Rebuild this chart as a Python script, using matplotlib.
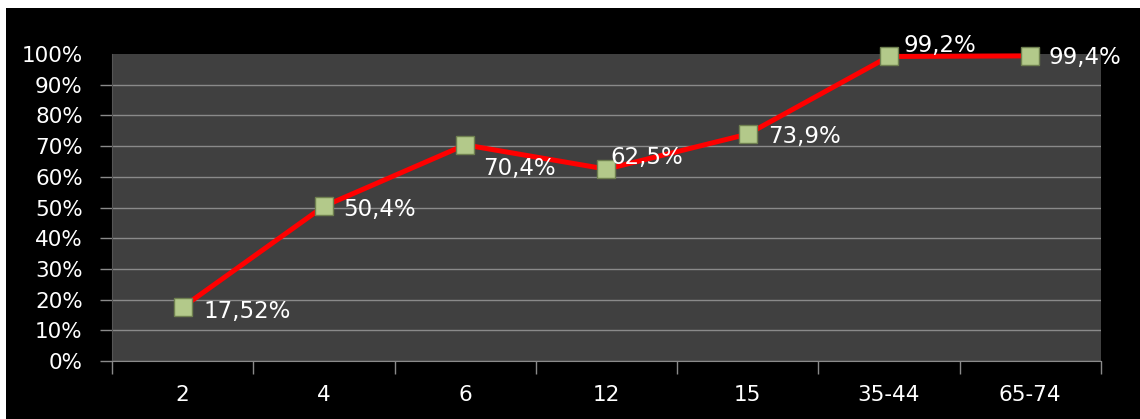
import matplotlib
matplotlib.use("Agg")
import matplotlib.pyplot as plt
from matplotlib.patches import Rectangle
import numpy as np

categories = ["2", "4", "6", "12", "15", "35-44", "65-74"]
values = [17.52, 50.4, 70.4, 62.5, 73.9, 99.2, 99.4]
labels = ["17,52%", "50,4%", "70,4%", "62,5%", "73,9%", "99,2%", "99,4%"]
yticks = list(range(0, 101, 10))
ytick_labels = [f"{v}%" for v in yticks]

# label offsets in pixels (dx, dy) from marker centre, text left-aligned
offsets = [(21, -4), (19, -3), (18, -24), (4, 12), (20, -2), (15, 11), (18, -2)]

fig = plt.figure(figsize=(11.4, 4.19), dpi=100, facecolor="black")
fig.patches.append(Rectangle((0, 0.981), 1, 0.019, transform=fig.transFigure,
                             facecolor="white", edgecolor="none", zorder=0))
fig.patches.append(Rectangle((0, 0), 0.0055, 1, transform=fig.transFigure,
                             facecolor="white", edgecolor="none", zorder=0))

ax = fig.add_axes([0.0982, 0.1384, 0.8675, 0.7327])
ax.set_facecolor("#404040")
x = np.arange(len(categories))
ax.set_xlim(-0.5, len(categories) - 0.5)
ax.set_ylim(0, 100)

ax.set_yticks(yticks)
ax.set_yticklabels(ytick_labels)
ax.yaxis.grid(True, color="#8a8a8a", linewidth=1)
ax.set_axisbelow(True)

ax.set_xticks(x)
ax.set_xticklabels(categories)
ax.set_xticks(np.arange(-0.5, len(categories)), minor=True)
ax.tick_params(axis="x", which="major", length=0, pad=17, colors="white", labelsize=15.5)
ax.tick_params(axis="x", which="minor", length=9, color="#8a8a8a", width=1)
ax.tick_params(axis="y", length=9, color="#8a8a8a", width=1, colors="white",
               labelsize=15.5, pad=12)
ax.tick_params(axis="y", color="#8a8a8a")

# no gridline / tick at the top edge (100%)
gl = ax.yaxis.get_gridlines()
gl[-1].set_visible(False)
top_tick = ax.yaxis.get_major_ticks()[-1]
top_tick.tick1line.set_visible(False)

for s in ["top", "right"]:
    ax.spines[s].set_visible(False)
ax.spines["left"].set_color("#555555")
ax.spines["bottom"].set_color("#8a8a8a")

ax.plot(x, values, color="#ff0000", linewidth=3.6, zorder=3, clip_on=False,
        marker="s", markersize=12.5, markerfacecolor="#b3c98a",
        markeredgecolor="#6f8050", markeredgewidth=1.0)

for xi, v, lab, (dx, dy) in zip(x, values, labels, offsets):
    ax.annotate(lab, (xi, v), xytext=(dx, dy), textcoords="offset pixels",
                ha="left", va="center", color="white", fontsize=16.5, zorder=4,
                annotation_clip=False)

fig.savefig("out.png", dpi=100, facecolor="black")
